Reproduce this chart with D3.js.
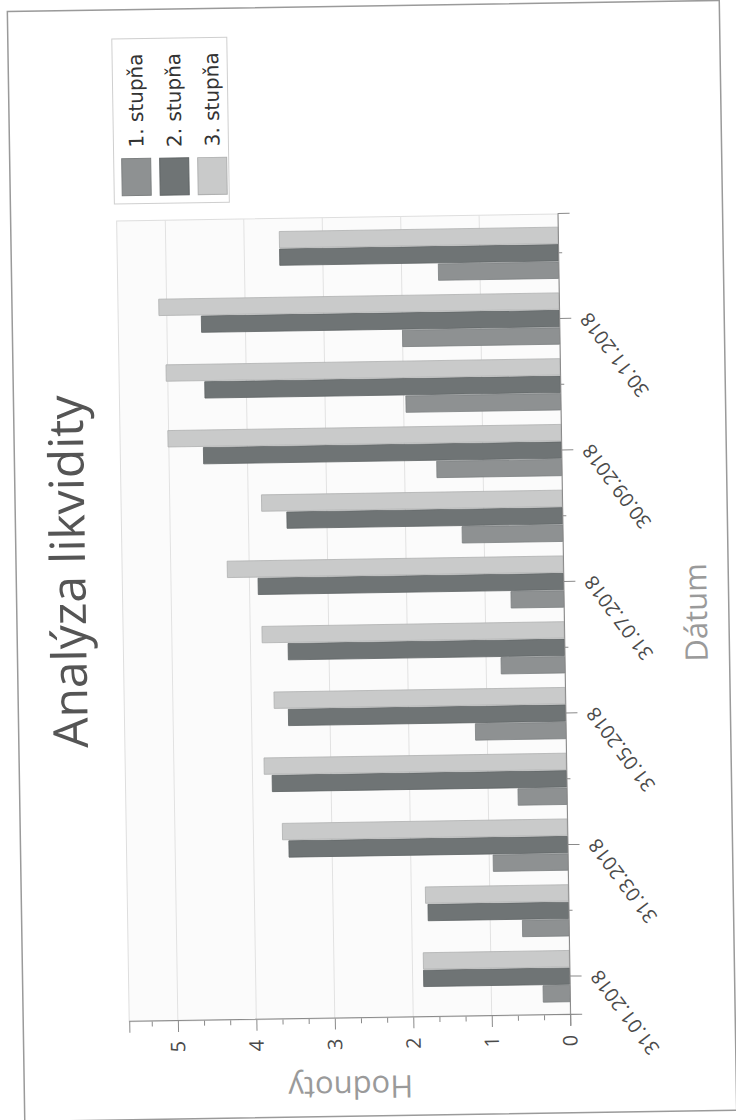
<!DOCTYPE html>
<html>
<head>
<meta charset="utf-8">
<script src="https://cdn.jsdelivr.net/npm/d3@7"></script>
<style>
  body { margin: 0; background: #fff; }
  svg { display: block; }
</style>
</head>
<body>
<script>
// dates on the category axis (month ends)
const dates = ['31.01.2018', '28.02.2018', '31.03.2018', '30.04.2018', '31.05.2018', '30.06.2018',
               '31.07.2018', '31.08.2018', '30.09.2018', '31.10.2018', '30.11.2018', '31.12.2018'];

// the three series
const stupen1 = [0.34, 0.59, 0.95, 0.62, 1.15, 0.81, 0.67, 1.28, 1.59, 1.97, 2.00, 1.53];
const stupen2 = [1.86, 1.79, 3.55, 3.75, 3.53, 3.52, 3.89, 3.51, 4.56, 4.53, 4.56, 3.55];
const stupen3 = [1.86, 1.82, 3.63, 3.85, 3.71, 3.85, 4.28, 3.83, 5.01, 5.02, 5.10, 3.55];

const seriesNames = ['1. stupňa', '2. stupňa', '3. stupňa'];
const valueTicks = [0, 1, 2, 3, 4, 5];

const colors = ['#8e9192', '#6f7475', '#c9caca'];
const strokes = ['#7d8081', '#5f6465', '#b0b1b1'];

// page is drawn in its own (landscape) coordinates, then turned to fit the scan
const W = 1120, H = 736;
const plot = {l: 102, r: 903, t: 122, b: 563};

const svg = d3.select('body').append('svg')
    .attr('width', 736)
    .attr('height', 1120);

svg.append('rect')
    .attr('width', 736)
    .attr('height', 1120)
    .attr('fill', '#fff');

const page = svg.append('g')
    .attr('transform', `translate(368,560) rotate(-90.9) translate(${-W / 2},${-H / 2})`);

// outer frame
page.append('rect')
    .attr('x', 4).attr('y', 16)
    .attr('width', 1110).attr('height', 712)
    .attr('fill', 'none')
    .attr('stroke', '#9a9a9a')
    .attr('stroke-width', 1.5);

// scales
const x = d3.scaleBand()
    .domain(dates)
    .range([plot.l, plot.r])
    .paddingInner(0.22)
    .paddingOuter(0.2);

const xs = d3.scaleBand()
    .domain(seriesNames)
    .range([0, x.bandwidth()])
    .paddingInner(0.06);

const y = d3.scaleLinear()
    .domain([0, 5.62])
    .range([plot.b, plot.t]);

// plot background
page.append('rect')
    .attr('x', plot.l).attr('y', plot.t)
    .attr('width', plot.r - plot.l).attr('height', plot.b - plot.t)
    .attr('fill', '#fbfbfb')
    .attr('stroke', '#dedede');

// grid
page.append('g')
    .selectAll('line')
    .data(valueTicks.filter(d => d > 0))
    .join('line')
    .attr('x1', plot.l).attr('x2', plot.r)
    .attr('y1', d => y(d)).attr('y2', d => y(d))
    .attr('stroke', '#e2e2e2');

// bars
const rows = dates.map((d, i) => ({date: d, values: [stupen1[i], stupen2[i], stupen3[i]]}));

page.append('g')
    .selectAll('g')
    .data(rows)
    .join('g')
    .attr('transform', d => `translate(${x(d.date)},0)`)
    .selectAll('rect')
    .data(d => d.values.map((v, k) => ({name: seriesNames[k], k: k, v: v})))
    .join('rect')
    .attr('x', d => xs(d.name))
    .attr('width', xs.bandwidth())
    .attr('y', d => y(d.v))
    .attr('height', d => y(0) - y(d.v))
    .attr('fill', d => colors[d.k])
    .attr('stroke', d => strokes[d.k])
    .attr('stroke-width', 0.8);

// value axis (major + minor ticks)
const yAxis = page.append('g')
    .attr('transform', `translate(${plot.l},0)`)
    .call(d3.axisLeft(y).tickValues(valueTicks).tickSize(11).tickPadding(9).tickFormat(d3.format('d')));

page.append('g')
    .attr('transform', `translate(${plot.l},0)`)
    .call(d3.axisLeft(y).tickValues(d3.range(1, 17).filter(k => k % 3).map(k => k / 3)).tickSize(5).tickFormat(''))
    .call(g => g.select('.domain').remove());

// category axis, every second date labelled
const xAxis = page.append('g')
    .attr('transform', `translate(0,${plot.b})`)
    .call(d3.axisBottom(x).tickSize(12).tickFormat((d, i) => i % 2 === 0 ? d : ''));

xAxis.selectAll('.tick line')
    .attr('y2', (d, i) => i % 2 === 0 ? 12 : 4);

xAxis.selectAll('.tick text')
    .attr('y', 0)
    .attr('dy', 0)
    .attr('text-anchor', 'end')
    .attr('transform', 'translate(7,31) rotate(-36)');

page.selectAll('.domain, .tick line')
    .attr('stroke', '#8a8a8a');

page.selectAll('.tick text')
    .attr('fill', '#4a4a4a')
    .attr('font-family', 'Open Sans, sans-serif')
    .attr('font-size', 19.5);

yAxis.selectAll('.tick text').attr('font-size', 20);

// titles
page.append('text')
    .attr('x', 553).attr('y', 85)
    .attr('text-anchor', 'middle')
    .attr('font-family', 'Open Sans, sans-serif')
    .attr('font-size', 48)
    .attr('fill', '#555')
    .text('Analýza likvidity');

page.append('text')
    .attr('x', (plot.l + plot.r) / 2).attr('y', 706)
    .attr('text-anchor', 'middle')
    .attr('font-family', 'Open Sans, sans-serif')
    .attr('font-size', 31)
    .attr('fill', '#9a9a9a')
    .text('Dátum');

page.append('text')
    .attr('transform', `translate(44,${(plot.t + plot.b) / 2}) rotate(-90)`)
    .attr('text-anchor', 'middle')
    .attr('font-family', 'Open Sans, sans-serif')
    .attr('font-size', 31)
    .attr('fill', '#9a9a9a')
    .text('Hodnoty');

// legend
const legend = page.append('g')
    .attr('transform', 'translate(0,7)');

legend.append('rect')
    .attr('x', 920).attr('y', 113)
    .attr('width', 165).attr('height', 115)
    .attr('fill', '#fff')
    .attr('stroke', '#cfcfcf');

const item = legend.selectAll('g.item')
    .data(seriesNames)
    .join('g')
    .classed('item', true)
    .attr('transform', (d, i) => `translate(928,${121 + i * 38})`);

item.append('rect')
    .attr('width', 37).attr('height', 29)
    .attr('fill', (d, i) => colors[i])
    .attr('stroke', (d, i) => strokes[i]);

item.append('text')
    .attr('x', 48).attr('y', 15)
    .attr('dominant-baseline', 'central')
    .attr('font-family', 'DejaVu Sans, sans-serif')
    .attr('font-size', 20)
    .attr('fill', '#333')
    .text(d => d);
</script>
</body>
</html>
